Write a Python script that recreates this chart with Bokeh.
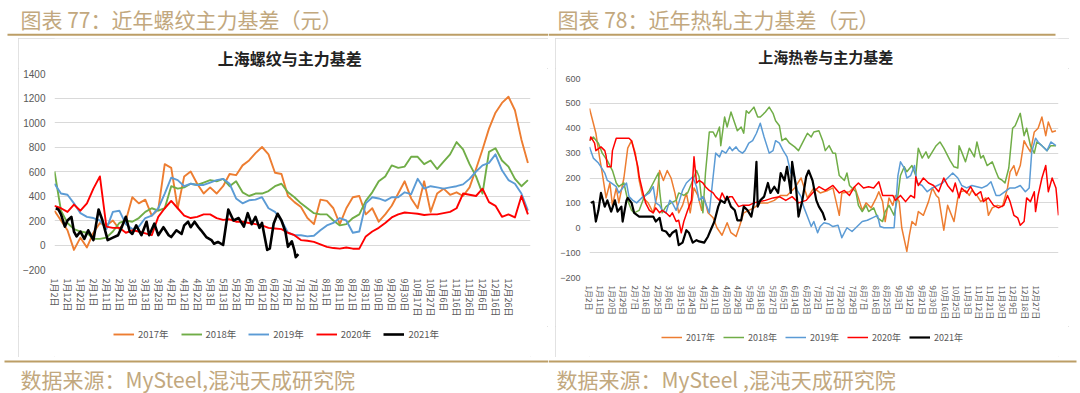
import numpy as np
from bokeh.plotting import figure
from bokeh.models import Range1d, FixedTicker, Legend, LegendItem, Spacer, ColumnDataSource
from bokeh.layouts import row, column
from bokeh.embed import file_html
from bokeh.resources import INLINE
from bokeh.core.properties import value

# ---------------- data ----------------
YEARS = ["2017年", "2018年", "2019年", "2020年", "2021年"]
COLORS = ["#ED7D31", "#70AD47", "#5B9BD5", "#FF0000", "#000000"]

# left chart: Shanghai rebar basis, category index step 5
L_STEP = 5
L2017 = [280,200,120,-40,60,-20,100,180,160,200,130,200,390,340,370,240,290,660,630,300,
         560,600,500,420,470,420,480,580,570,650,690,750,800,740,590,580,400,350,310,220,
         170,370,360,300,170,300,390,400,250,300,190,250,320,420,520,380,300,520,270,420,
         460,410,430,400,470,620,780,950,1080,1160,1210,1100,860,670]
L2018 = [600,280,180,130,110,100,50,50,60,110,180,200,190,220,270,300,280,300,480,460,
         470,500,490,510,530,520,540,480,520,430,400,420,420,440,480,500,430,390,340,300,
         260,250,250,200,160,170,220,250,360,430,520,560,650,630,640,720,720,660,690,620,
         680,740,840,780,660,560,420,760,790,690,640,540,480,530]
L2019 = [500,420,410,340,260,230,220,200,130,270,280,170,130,150,220,240,300,420,550,530,
         480,500,490,490,510,530,540,500,380,340,365,370,390,300,270,200,100,80,80,70,
         75,120,160,180,220,200,100,110,340,390,380,360,390,390,430,415,540,460,480,470,
         460,470,480,495,540,600,650,670,740,610,530,500,420,280]
L2020 = [320,300,270,330,280,340,460,560,150,140,140,100,120,110,95,80,230,300,360,300,
         240,220,230,250,250,220,205,210,190,190,180,170,160,140,135,130,100,80,40,35,
         25,5,-15,-25,-30,-20,-30,-30,70,110,140,180,225,250,265,260,255,245,250,250,
         260,270,300,420,410,400,460,350,320,230,250,225,400,250]
L2021 = [(1,300),(3,290),(5,250),(8,150),(10,200),(13,230),(15,110),(17,70),(20,110),(23,50),
         (26,120),(30,40),(34,290),(37,200),(39,120),(41,40),(45,60),(49,80),(52,150),(55,230),
         (58,110),(60,90),(63,160),(67,80),(71,190),(73,80),(77,175),(80,80),(84,145),(88,80),
         (90,65),(94,120),(98,90),(100,160),(103,190),(105,145),(108,190),(111,145),(113,120),
         (117,65),(121,40),(123,10),(126,25),(130,0),(132,145),(134,290),(138,200),(142,220),
         (146,150),(149,260),(152,170),(155,230),(158,140),(160,180),(164,-40),(166,-30),
         (169,175),(172,255),(175,200),(178,110),(180,-15),(183,30),(185,-45),(186,-100),(188,-75)]
L_TICKS = ["1月2日","1月12日","1月22日","2月1日","2月11日","2月21日","3月3日","3月13日","3月23日",
           "4月2日","4月12日","4月22日","5月3日","5月13日","5月23日","6月2日","6月12日","6月22日",
           "7月2日","7月12日","7月22日","8月1日","8月11日","8月21日","8月31日","9月10日","9月20日",
           "9月30日","10月17日","10月27日","11月6日","11月16日","11月26日","12月6日","12月16日","12月26日"]

# right chart: Shanghai hot coil basis, (category index, value)
R2017 = [(0,480),(3,420),(5,380),(8,280),(10,220),(13,120),(16,180),(18,90),(21,160),(23,100),
         (27,200),(30,320),(33,350),(36,300),(39,190),(42,120),(46,100),(50,60),(53,130),(55,230),
         (58,190),(61,230),(64,200),(67,140),(70,60),(73,90),(76,140),(79,60),(82,160),(85,130),
         (88,70),(90,120),(93,60),(97,40),(100,0),(104,-30),(108,20),(111,-20),(115,-35),(118,10),
         (121,60),(125,70),(129,80),(134,100),(140,100),(145,110),(150,130),(155,130),(161,160),
         (166,200),(171,120),(176,160),(181,140),(187,150),(191,160),(196,50),(198,140),(204,145),
         (208,165),(211,120),(214,70),(217,100),(221,80),(225,120),(227,145),(230,105),(232,25),
         (235,120),(238,90),(240,130),(243,105),(245,0),(249,-95),(251,-30),(253,25),(256,10),
         (258,65),(262,50),(266,105),(269,160),(272,130),(274,120),(278,-10),(281,90),(286,25),
         (289,120),(291,145),(295,150),(298,130),(300,150),(304,130),(307,105),(311,120),(313,50),
         (316,80),(320,90),(324,85),(328,160),(330,225),(333,250),(335,210),(338,250),(341,350),
         (343,330),(346,305),(349,385),(352,400),(355,445),(358,370),(360,425),(363,385),(366,390)]
R2018 = [(0,350),(3,365),(7,340),(10,300),(14,270),(18,230),(21,180),(23,165),(27,180),(30,110),
         (33,70),(35,60),(39,70),(43,125),(47,150),(51,190),(54,220),(55,150),(57,60),(60,85),
         (64,100),(68,110),(70,140),(74,130),(77,140),(81,190),(84,230),(86,205),(89,60),(91,220),
         (94,385),(97,385),(99,365),(102,405),(103,330),(106,445),(108,405),(111,465),(114,420),
         (116,390),(119,405),(121,380),(123,470),(125,460),(129,485),(132,445),(134,445),(138,465),
         (141,485),(144,460),(146,430),(149,410),(151,350),(154,360),(157,340),(161,325),(164,310),
         (168,350),(171,380),(174,365),(176,385),(180,390),(183,350),(185,310),(188,330),(191,300),
         (193,300),(196,210),(200,190),(202,220),(204,170),(206,160),(209,145),(211,90),(214,65),
         (217,90),(219,65),(223,80),(226,40),(230,25),(232,65),(235,90),(239,50),(242,130),
         (244,210),(247,245),(249,225),(253,250),(256,210),(258,320),(261,280),(264,305),(266,280),
         (269,305),(272,330),(275,345),(278,320),(281,290),(283,270),(286,245),(289,240),(290,330),
         (292,305),(295,265),(298,320),(302,285),(304,345),(307,280),(309,290),(312,250),(316,265),
         (319,225),(321,200),(324,190),(326,180),(329,240),(332,400),(334,410),(338,460),(341,370),
         (343,400),(346,330),(349,300),(351,345),(355,330),(359,310),(362,330),(366,330)]
R2019 = [(0,325),(3,280),(7,260),(9,245),(12,220),(14,190),(17,180),(21,165),(23,140),(26,160),
         (29,180),(31,125),(34,110),(37,100),(39,110),(42,125),(44,130),(47,140),(50,165),(52,100),
         (55,90),(57,70),(60,60),(63,110),(65,100),(68,70),(70,100),(73,150),(76,180),(78,190),
         (81,205),(84,165),(86,110),(89,125),(91,100),(94,60),(97,205),(99,300),(102,285),(104,310),
         (107,300),(110,325),(112,310),(115,325),(117,310),(120,300),(122,310),(125,340),(128,350),
         (131,380),(134,420),(137,365),(141,300),(144,310),(146,350),(149,340),(152,310),(155,285),
         (158,220),(161,205),(163,150),(166,125),(168,85),(171,45),(174,5),(176,25),(179,-20),
         (181,5),(184,20),(188,15),(191,5),(195,10),(198,-40),(202,0),(206,-15),(210,5),(214,25),
         (218,30),(222,40),(226,50),(228,5),(231,0),(235,0),(239,0),(242,210),(244,265),(247,240),
         (249,200),(252,210),(255,250),(257,180),(261,170),(265,145),(269,160),(273,170),(277,180),
         (281,200),(285,220),(289,200),(292,170),(296,160),(300,170),(304,165),(308,160),(312,170),
         (315,185),(319,130),(322,130),(326,145),(330,160),(334,160),(338,170),(342,145),(345,160),
         (347,305),(350,360),(352,345),(355,330),(359,310),(362,345),(366,330)]
R2020 = [(0,350),(1,365),(4,340),(5,310),(9,325),(12,310),(13,290),(14,245),(17,245),(18,310),
         (21,360),(25,360),(29,360),(31,360),(33,350),(35,310),(38,245),(39,205),(42,140),(44,100),
         (47,70),(50,60),(52,80),(55,60),(57,70),(60,60),(63,45),(65,60),(68,25),(70,30),(72,-20),
         (74,25),(77,70),(80,110),(82,285),(84,180),(86,190),(89,180),(91,165),(94,150),(97,140),
         (99,125),(102,110),(104,140),(107,110),(110,125),(112,125),(115,100),(117,85),(120,90),
         (125,90),(129,100),(133,105),(138,110),(144,120),(149,125),(154,110),(159,125),(164,100),
         (170,110),(175,140),(180,165),(185,150),(188,160),(191,170),(196,140),(200,150),(204,130),
         (208,165),(211,180),(215,160),(219,165),(223,160),(227,185),(230,130),(234,130),(238,130),
         (240,110),(244,130),(248,105),(252,130),(255,120),(256,205),(258,170),(262,200),(266,180),
         (270,170),(274,145),(278,200),(281,170),(285,145),(287,180),(290,120),(292,160),(296,140),
         (299,165),(303,130),(307,145),(309,105),(313,120),(317,90),(321,80),(325,90),(328,130),
         (330,105),(333,50),(336,40),(338,10),(341,25),(343,120),(346,105),(349,145),(350,65),
         (352,130),(355,200),(358,250),(360,145),(363,200),(366,160),(368,50)]
R2021 = [(1,100),(3,105),(5,25),(7,70),(9,140),(12,85),(14,110),(17,65),(20,110),(22,65),(25,85),
         (26,25),(29,110),(30,120),(33,100),(35,60),(39,45),(44,45),(50,45),(52,25),(55,40),(57,-10),
         (60,-15),(63,-35),(65,-20),(68,-10),(70,-70),(73,-60),(76,-10),(78,-20),(81,-60),(84,-50),
         (86,-55),(90,-60),(93,-35),(95,-10),(98,25),(101,85),(103,110),(106,100),(108,125),(111,85),
         (114,70),(116,30),(119,30),(121,85),(124,70),(127,45),(129,100),(131,265),(132,85),(134,110),
         (137,125),(140,180),(142,140),(145,165),(148,140),(150,220),(153,190),(155,245),(158,140),
         (159,265),(162,165),(164,45),(167,110),(170,205),(172,230),(175,190),(178,110),(180,85),
         (183,60),(185,30)]
R_TICKS = ["1月2日","1月11日","1月20日","1月29日","2月7日","2月16日","2月25日","3月6日","3月15日",
           "3月24日","4月2日","4月11日","4月20日","4月29日","5月9日","5月18日","5月27日","6月5日",
           "6月14日","6月23日","7月2日","7月11日","7月20日","7月29日","8月7日","8月16日","8月25日",
           "9月3日","9月12日","9月21日","9月30日","10月16日","10月25日","11月3日","11月12日",
           "11月21日","11月30日","12月9日","12月18日","12月27日"]

# ---------------- styling ----------------
GOLD_TEXT = "#C2A87E"
GOLD_LINE = "#BC9E66"
GRID = "#D9D9D9"
AXIS_TEXT = "#595959"
CJK = "Noto Sans CJK SC"
LATIN = "Liberation Sans"


def blank(width, height):
    p = figure(width=width, height=height, x_range=Range1d(0, width), y_range=Range1d(0, height),
               x_axis_type=None, y_axis_type=None, output_backend="svg", toolbar_location=None,
               min_border=0, title=None)
    p.grid.visible = False
    p.outline_line_color = None
    p.background_fill_color = "white"
    p.border_fill_color = "white"
    return p


def banner(width, height, text, tx, ty, lx0, lx1, ly, size):
    p = blank(width, height)
    p.segment(x0=[lx0], y0=[ly], x1=[lx1], y1=[ly], line_color=GOLD_LINE, line_width=2)
    p.text(x=[tx], y=[ty], text=[text], text_font=value(CJK), text_font_size=size,
           text_color=GOLD_TEXT, text_baseline="middle", text_align="left")
    return p


def title_strip(width, height, text, tx, ty, size):
    p = blank(width, height)
    p.text(x=[tx], y=[ty], text=[text], text_font=value(CJK), text_font_size=size,
           text_font_style="bold", text_color="#222222", text_baseline="middle",
           text_align="center")
    return p


def legend_strip(width, height, loc, leg_size, lw, lw_black, spacing):
    p = blank(width, height)
    items = []
    for name, color in zip(YEARS, COLORS):
        # legend proxy: a line with no drawable point, styled like its series
        r = p.line(x=np.array([np.nan]), y=np.array([np.nan]), line_color=color,
                   line_width=lw_black if color == "#000000" else lw)
        items.append(LegendItem(label=name, renderers=[r]))
    leg = Legend(items=items, orientation="horizontal", location=loc,
                 label_text_font=CJK, label_text_font_size=leg_size,
                 label_text_color=AXIS_TEXT, glyph_width=21, glyph_height=14,
                 label_height=14, label_standoff=4, spacing=spacing, padding=2,
                 margin=0, border_line_color=None, background_fill_alpha=0)
    p.add_layout(leg, "center")
    return p


def plot_area(width, height, borders, xmax, yr, ystep, tick_step, tick_labels, series,
              ylab_size, xlab_size, xlab_standoff, lw, lw_black):
    bl, br, bt, bb = borders
    p = figure(width=width, height=height, x_range=Range1d(0, xmax), y_range=Range1d(*yr),
               output_backend="svg", toolbar_location=None, title=None,
               min_border_left=bl, min_border_right=br, min_border_top=bt, min_border_bottom=bb)
    p.outline_line_color = None
    p.background_fill_color = "white"
    p.border_fill_color = "white"

    yt = list(range(yr[0], yr[1] + 1, ystep))
    p.yaxis.ticker = FixedTicker(ticks=yt)
    p.ygrid.ticker = FixedTicker(ticks=yt)
    p.ygrid.grid_line_color = GRID
    p.ygrid.grid_line_width = 1
    p.xgrid.visible = False
    for ax in (p.xaxis[0], p.yaxis[0]):
        ax.axis_line_color = None
        ax.major_tick_line_color = None
        ax.minor_tick_line_color = None
        ax.major_tick_out = 0
        ax.major_tick_in = 0
        ax.major_label_text_color = AXIS_TEXT
    p.yaxis.major_label_text_font = LATIN
    p.yaxis.major_label_text_font_size = ylab_size
    p.yaxis.major_label_standoff = 9

    xt = [i * tick_step for i in range(len(tick_labels))]
    p.xaxis.ticker = FixedTicker(ticks=xt)
    p.xaxis.major_label_overrides = {t: lab for t, lab in zip(xt, tick_labels)}
    p.xaxis.major_label_orientation = "vertical"
    p.xaxis.major_label_text_font = CJK
    p.xaxis.major_label_text_font_size = xlab_size
    p.xaxis.major_label_standoff = xlab_standoff

    for color, pts in zip(COLORS, series):
        src = ColumnDataSource(data=dict(x=[a for a, b in pts], y=[b for a, b in pts]))
        p.line("x", "y", source=src, line_color=color,
               line_width=lw_black if color == "#000000" else lw, line_join="round")
    return p


def stepped(vals, step):
    return [(i * step, v) for i, v in enumerate(vals)]


BOX_STYLE = {"outline": "1px solid #D9D9D9", "outline-offset": "-1px"}

left_series = [stepped(L2017, L_STEP), stepped(L2018, L_STEP), stepped(L2019, L_STEP),
               stepped(L2020, L_STEP), L2021]
right_series = [R2017, R2018, R2019, R2020, R2021]

# headers (page y 0..38)
hdr_l = banner(548, 38, "图表 77：近年螺纹主力基差（元）", 20, 19.5, 7, 548, 3.7, "21px")
hdr_r = banner(532, 38, "图表 78：近年热轧主力基差（元）", 9, 19.5, 0, 507, 3.7, "21px")

# left chart box (x 18..548, y 38..357)
t_l = title_strip(530, 30, "上海螺纹与主力基差", 262, 11, "16px")
p_l = plot_area(530, 258, (36, 18, 5, 57), 367, (-200, 1400), 200, 10, L_TICKS, left_series,
                "10px", "9px", 9, 1.9, 2.6)
g_l = legend_strip(530, 31, (59, 16), "9.5px", 1.9, 2.6, 12)
box_l = column(t_l, p_l, g_l, styles=BOX_STYLE)

# right chart box (x 555..1069, y 38..357)
t_r = title_strip(514, 30, "上海热卷与主力基差", 259, 12, "15px")
p_r = plot_area(514, 258, (34, 11, 10, 49), 368, (-200, 600), 100, 9, R_TICKS, right_series,
                "9px", "8px", 8, 1.5, 2.2)
g_r = legend_strip(514, 31, (72, 13), "9px", 1.5, 2.2, 8)
box_r = column(t_r, p_r, g_r, styles=BOX_STYLE)

# footers (page y 357..393)
ftr_l = banner(548, 36, "数据来源：MySteel,混沌天成研究院", 20, 15, 4, 548, 32, "21px")
ftr_r = banner(532, 36, "数据来源：MySteel ,混沌天成研究院", 8, 15, 0, 528, 32, "21px")

left_col = column(hdr_l, row(Spacer(width=18, height=319), box_l), ftr_l)
right_col = column(hdr_r, row(Spacer(width=7, height=319), box_r, Spacer(width=11, height=319)), ftr_r)
layout = row(left_col, right_col)

open("out.html", "w").write(file_html(layout, INLINE))
